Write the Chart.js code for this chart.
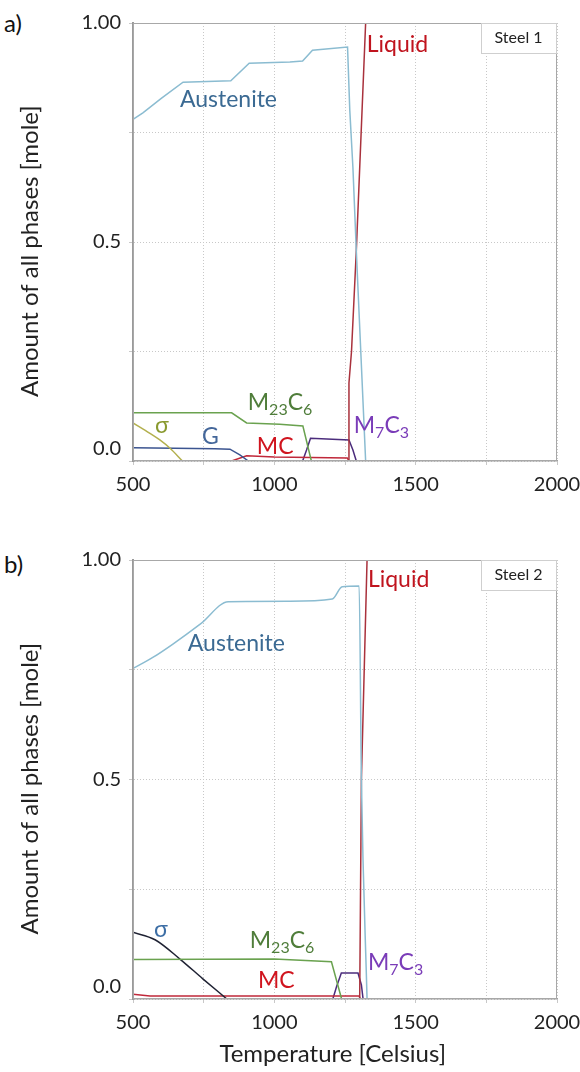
<!DOCTYPE html>
<html>
<head>
<meta charset="utf-8">
<script src="https://cdn.jsdelivr.net/npm/chart.js@4.4.1/dist/chart.umd.min.js"></script>
<style>
  body { margin: 0; background: #fff; width: 580px; height: 1072px; position: relative; overflow: hidden; font-family: Lato, sans-serif; }
  .painel { position: absolute; left: 0; }
  .letra { position: absolute; left: 4px; font-size: 24px; line-height: 1; color: #111; }
</style>
</head>
<body>
<div class="letra" style="top:11px">a)</div>
<div class="letra" style="top:552px">b)</div>
<canvas id="graficoA" class="painel" style="top:0" width="580" height="500"></canvas>
<canvas id="graficoB" class="painel" style="top:537px" width="580" height="535"></canvas>
<script>
// Aço 1 (painel a) - temperatura [Celsius] e fração de fase [mole]
const tempAustenitaA = [500, 535, 600, 677, 846, 911, 1055, 1100, 1135, 1259, 1267, 1278, 1290, 1323];
const austenitaA     = [0.780, 0.795, 0.828, 0.865, 0.868, 0.908, 0.911, 0.913, 0.938, 0.945, 0.80, 0.67, 0.48, 0];
const tempLiquidoA   = [1261, 1264, 1273, 1290, 1323, 2000];
const liquidoA       = [0, 0.178, 0.25, 0.48, 1.0, 1.0];
const tempM23C6A     = [500, 849, 902, 1019, 1101, 1131];
const m23c6A         = [0.110, 0.110, 0.087, 0.084, 0.080, 0];
const tempSigmaA     = [500, 560, 595, 631, 675];
const sigmaA         = [0.087, 0.063, 0.048, 0.029, 0];
const tempGA         = [500, 790, 843, 878, 908];
const gA             = [0.030, 0.028, 0.027, 0.014, 0];
const tempMCA        = [849, 902, 1000, 1258, 1264];
const mcA            = [0, 0.012, 0.009, 0.007, 0];
const tempM7C3A      = [1100, 1114, 1128, 1264, 1278, 1290];
const m7c3A          = [0, 0.025, 0.052, 0.048, 0.025, 0];

// Aço 2 (painel b)
const tempAustenitaB = [500, 570, 640, 740, 837, 1055, 1205, 1240, 1300, 1308, 1328];
const austenitaB     = [0.753, 0.778, 0.808, 0.855, 0.905, 0.906, 0.911, 0.939, 0.941, 0.50, 0];
const tempLiquidoB   = [1302, 1308, 1328, 2000];
const liquidoB       = [0, 0.5, 1.0, 1.0];
const tempM23C6B     = [500, 1000, 1202, 1238];
const m23c6B         = [0.090, 0.091, 0.085, 0];
const tempSigmaB     = [500, 578, 666, 747, 832];
const sigmaB         = [0.152, 0.135, 0.091, 0.046, 0];
const tempMCB        = [500, 560, 1300, 1304];
const mcB            = [0.011, 0.007, 0.007, 0];
const tempM7C3B      = [1207, 1220, 1237, 1296, 1308, 1314];
const m7c3B          = [0, 0.028, 0.059, 0.059, 0.032, 0];

// Rótulos dos eixos
const ticksX = [500, 1000, 1500, 2000];
const rotulosY = { 0: '0.0', 0.5: '0.5', 1: '1.00' };

// Rótulos das fases (posição em coordenadas de dados)
const rotulosA = [
    { texto: 'Austenite', t: 666, v: 0.808, cor: '#3b6a93' },
    { texto: 'Liquid', t: 1327, v: 0.934, cor: '#c0141e' },
    { texto: 'M_23C_6', t: 906, v: 0.116, cor: '#4f7d3a' },
    { texto: 'σ', t: 578, v: 0.064, cor: '#8a9a30' },
    { texto: 'G', t: 744, v: 0.039, cor: '#44679a' },
    { texto: 'MC', t: 938, v: 0.016, cor: '#d0141e' },
    { texto: 'M_7C_3', t: 1281, v: 0.064, cor: '#7a3cb8' }
];
const rotulosB = [
    { texto: 'Austenite', t: 694, v: 0.792, cor: '#3b6a93' },
    { texto: 'Liquid', t: 1331, v: 0.938, cor: '#c0141e' },
    { texto: 'σ', t: 574, v: 0.142, cor: '#3d6ea5' },
    { texto: 'M_23C_6', t: 913, v: 0.116, cor: '#4f7d3a' },
    { texto: 'MC', t: 942, v: 0.025, cor: '#d0141e' },
    { texto: 'M_7C_3', t: 1331, v: 0.066, cor: '#7a3cb8' }
];

const cores = {
    austenita: '#8bbcd1',
    liquido: '#a9313c',
    m23c6: '#6aa24f',
    sigmaA: '#b3b04e',
    sigmaB: '#1f2233',
    g: '#3b5490',
    mc: '#c0283a',
    m7c3: '#4b2c7c'
};

Chart.defaults.font.family = 'Lato, sans-serif';
Chart.defaults.color = '#222';

function pontos(temps, valores) {
    return temps.map((t, i) => ({ x: t, y: valores[i] }));
}

function serie(nome, temps, valores, cor, suave) {
    return {
        label: nome,
        data: pontos(temps, valores),
        borderColor: cor,
        backgroundColor: cor,
        borderWidth: 1.5,
        pointRadius: 0,
        fill: false,
        tension: 0,
        cubicInterpolationMode: suave ? 'monotone' : 'default'
    };
}

// Desenha texto com subíndices (ex.: M_23C_6)
function textoRico(ctx, texto, x, y, tam, cor) {
    const partes = texto.split(/_(\d+)/);
    ctx.fillStyle = cor;
    ctx.textAlign = 'left';
    ctx.textBaseline = 'alphabetic';
    let cx = x;
    partes.forEach((p, i) => {
        if (!p) return;
        const sub = i % 2 === 1;
        const t = sub ? Math.round(tam * 0.68) : tam;
        ctx.font = `${t}px Lato, sans-serif`;
        ctx.fillText(p, cx, sub ? y + tam * 0.22 : y);
        cx += ctx.measureText(p).width;
    });
}

const anotacoes = {
    id: 'anotacoes',
    afterDatasetsDraw(chart, args, opts) {
        const { ctx, chartArea: a, scales: { x, y } } = chart;
        ctx.save();
        // moldura
        ctx.strokeStyle = '#a8a8a8';
        ctx.lineWidth = 1;
        ctx.strokeRect(a.left + 0.5, a.top + 0.5, a.width - 1, a.height - 1);
        // rótulos das fases
        opts.rotulos.forEach(r => {
            textoRico(ctx, r.texto, x.getPixelForValue(r.t), y.getPixelForValue(r.v), 23, r.cor);
        });
        // caixa com o nome do aço
        const w = 75, h = 30;
        const bx = a.right - w - 1, by = a.top;
        ctx.fillStyle = '#fff';
        ctx.fillRect(bx, by, w, h);
        ctx.strokeStyle = '#cfcfcf';
        ctx.strokeRect(bx + 0.5, by + 0.5, w, h);
        ctx.fillStyle = '#222';
        ctx.font = '16px Lato, sans-serif';
        ctx.textAlign = 'center';
        ctx.textBaseline = 'middle';
        ctx.fillText(opts.caixa, bx + w / 2, by + h / 2);
        ctx.restore();
    }
};

function criarGrafico(idCanvas, datasets, rotulos, caixa, alturaX, mostrarTituloX) {
    const ctx = document.getElementById(idCanvas);
    return new Chart(ctx, {
        type: 'line',
        data: { datasets },
        options: {
            responsive: false,
            animation: false,
            layout: { padding: { left: 0, right: 23, top: 23, bottom: 0 } },
            plugins: {
                legend: { display: false },
                tooltip: { enabled: false },
                anotacoes: { rotulos, caixa }
            },
            scales: {
                x: {
                    type: 'linear',
                    min: 500,
                    max: 2000,
                    grid: { color: '#c8c8c8', tickLength: 4, drawTicks: true },
                    border: { color: '#a0a0a0', width: 1.5, dash: [1, 2] },
                    ticks: {
                        stepSize: 250,
                        autoSkip: false,
                        maxRotation: 0,
                        padding: 8,
                        font: { size: 20 },
                        color: '#222',
                        callback: (v) => (ticksX.includes(v) ? String(v) : '')
                    },
                    title: {
                        display: mostrarTituloX,
                        // espaços finais deslocam o título um pouco para a esquerda
                        text: 'Temperature [Celsius]\u00a0\u00a0\u00a0\u00a0',
                        font: { size: 24 },
                        color: '#222',
                        padding: { top: 0, bottom: 3 }
                    },
                    afterFit: (s) => {
                        s.height = alturaX;
                        s.paddingLeft = 0;
                        s.paddingRight = 0;
                    }
                },
                y: {
                    min: 0,
                    max: 1,
                    grid: { color: '#c8c8c8', tickLength: 4 },
                    border: { color: '#9a9a9a', width: 2, dash: [1, 2] },
                    ticks: {
                        stepSize: 0.25,
                        padding: 8,
                        font: { size: 20 },
                        color: '#222',
                        callback: (v) => {
                            if (v === 0) return [rotulosY[0], ''];
                            return rotulosY[v] || '';
                        }
                    },
                    title: {
                        display: true,
                        text: 'Amount of all phases [mole]\u00a0\u00a0\u00a0',
                        font: { size: 24 },
                        color: '#222',
                        padding: { top: 16, bottom: 0 }
                    },
                    afterFit: (s) => {
                        s.width = 133;
                        s.paddingTop = 0;
                        s.paddingBottom = 0;
                    }
                }
            }
        },
        plugins: [anotacoes]
    });
}

criarGrafico('graficoA', [
    serie('Austenite', tempAustenitaA, austenitaA, cores.austenita),
    serie('Liquid', tempLiquidoA, liquidoA, cores.liquido),
    serie('M23C6', tempM23C6A, m23c6A, cores.m23c6),
    serie('Sigma', tempSigmaA, sigmaA, cores.sigmaA, true),
    serie('G', tempGA, gA, cores.g),
    serie('MC', tempMCA, mcA, cores.mc),
    serie('M7C3', tempM7C3A, m7c3A, cores.m7c3)
], rotulosA, 'Steel 1', 39, false);

criarGrafico('graficoB', [
    serie('Austenite', tempAustenitaB, austenitaB, cores.austenita, true),
    serie('Liquid', tempLiquidoB, liquidoB, cores.liquido),
    serie('M23C6', tempM23C6B, m23c6B, cores.m23c6),
    serie('Sigma', tempSigmaB, sigmaB, cores.sigmaB, true),
    serie('MC', tempMCB, mcB, cores.mc),
    serie('M7C3', tempM7C3B, m7c3B, cores.m7c3)
], rotulosB, 'Steel 2', 73, true);
</script>
</body>
</html>
